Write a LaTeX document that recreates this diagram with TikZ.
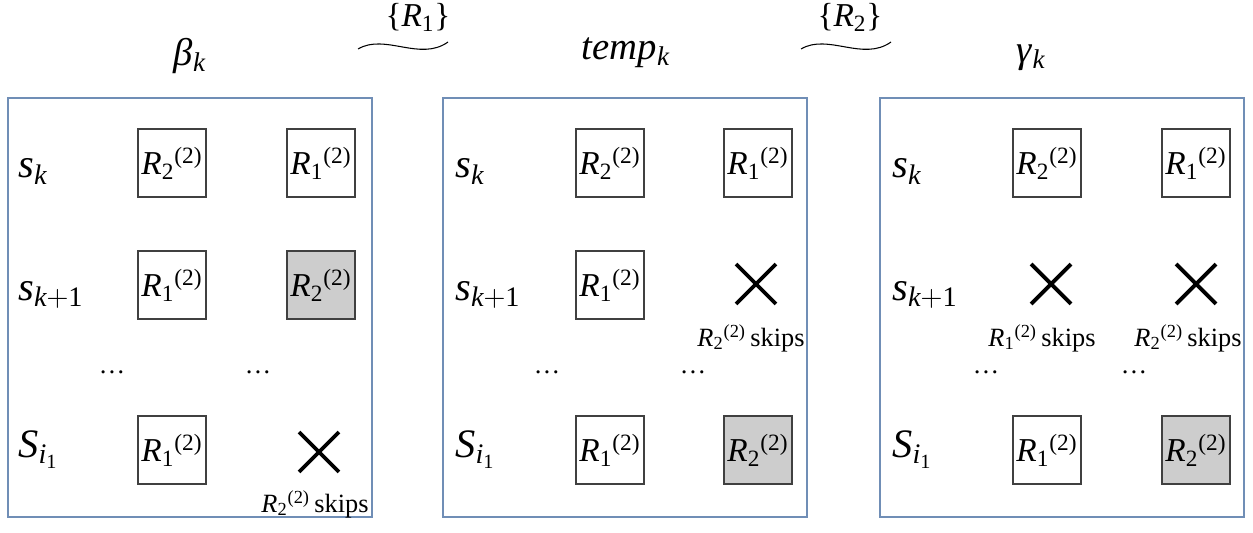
\documentclass[tikz,border=0pt]{standalone}
\usepackage{amsmath}
\usepackage{fontspec}
\setmainfont{Liberation Serif}
\usetikzlibrary{positioning,shapes.misc}
\definecolor{panelblue}{RGB}{112,142,182}
\definecolor{cellgray}{RGB}{205,205,205}
\newcommand{\Rcell}[2]{\textit{R}$_{\text{#1}}{}^{\text{(#2)}}$}
\newcommand{\ssub}[1]{\textit{s}$_{#1}$}

\begin{document}
\begin{tikzpicture}[x=0.02cm,y=-0.02cm,
  every node/.style={inner sep=0pt},
  panel/.style={draw=panelblue,line width=0.8pt,minimum width=7.28cm,minimum height=8.38cm},
  cell/.style={draw=black!75,line width=0.6pt,minimum size=1.36cm,font=\fontsize{19}{22}\selectfont},
  shaded/.style={cell,fill=cellgray},
  skipmark/.style={cross out,draw=black,line width=2.2pt,minimum size=0.72cm},
  skiplabel/.style={font=\fontsize{15}{17}\selectfont},
  rowlabel/.style={font=\fontsize{23}{26}\selectfont,anchor=base west},
  title/.style={font=\fontsize{22}{26}\selectfont},
  setlabel/.style={font=\fontsize{19}{22}\selectfont},
  dots/.style={font=\fontsize{15}{18}\selectfont}]
\useasboundingbox (0,0) rectangle (1253,533);

% titles and the two steps between them
\node[title] (beta) at (190,56) {\textit{β}$_{\textit{k}}$};
\node[title] (temp) at (626,53) {\textit{temp}$_{\textit{k}}$};
\node[title] (gamma) at (1031,58) {\textit{γ}$_{\textit{k}}$};
\node[setlabel] (set1) at (418,17) {\{\textit{R}$_{\text{1}}$\}};
\node[setlabel] (set2) at (850,17) {\{\textit{R}$_{\text{2}}$\}};
\coordinate (w1a) at (358,49);
\coordinate (w1b) at (448,42);
\coordinate (w2a) at (801,49);
\coordinate (w2b) at (891,42);
\draw[line width=0.6pt] (w1a) .. controls (385,33) and (420,62) .. (w1b);
\draw[line width=0.6pt] (w2a) .. controls (828,33) and (863,62) .. (w2b);

% left panel: beta_k
\node[panel] (pl) at (190,307.5) {};
\node[rowlabel] (lsk) at (18,178) {\ssub{\textit{k}}};
\node[rowlabel] (lsk1) at (18,300) {\ssub{\textit{k}+\text{1}}};
\node[rowlabel] (lsi) at (18,457) {\textit{S}$_{\textit{i}_{\text{1}}}$};
\node[cell] (l11) at (172,163) {\Rcell{2}{2}};
\node[cell] (l12) at (321,163) {\Rcell{1}{2}};
\node[cell] (l21) at (172,285) {\Rcell{1}{2}};
\node[shaded] (l22) at (321,285) {\Rcell{2}{2}};
\node[dots] (ld1) at (112,372) {\dots};
\node[dots] (ld2) at (258,372) {\dots};
\node[cell] (l31) at (172,450) {\Rcell{1}{2}};
\node[skipmark] (l32) at (319,452) {};
\node[skiplabel] (l32s) at (315,504) {\Rcell{2}{2}\,skips};

% middle panel: temp_k
\node[panel] (pm) at (625,307.5) {};
\node[rowlabel] (msk) at (455,178) {\ssub{\textit{k}}};
\node[rowlabel] (msk1) at (455,300) {\ssub{\textit{k}+\text{1}}};
\node[rowlabel] (msi) at (455,457) {\textit{S}$_{\textit{i}_{\text{1}}}$};
\node[cell] (m11) at (610,163) {\Rcell{2}{2}};
\node[cell] (m12) at (758,163) {\Rcell{1}{2}};
\node[cell] (m21) at (610,285) {\Rcell{1}{2}};
\node[skipmark] (m22) at (756,284) {};
\node[skiplabel] (m22s) at (751,338) {\Rcell{2}{2}\,skips};
\node[dots] (md1) at (547,372) {\dots};
\node[dots] (md2) at (693,372) {\dots};
\node[cell] (m31) at (610,450) {\Rcell{1}{2}};
\node[shaded] (m32) at (758,450) {\Rcell{2}{2}};

% right panel: gamma_k
\node[panel] (pr) at (1062,307.5) {};
\node[rowlabel] (rsk) at (892,178) {\ssub{\textit{k}}};
\node[rowlabel] (rsk1) at (892,300) {\ssub{\textit{k}+\text{1}}};
\node[rowlabel] (rsi) at (892,457) {\textit{S}$_{\textit{i}_{\text{1}}}$};
\node[cell] (r11) at (1047,163) {\Rcell{2}{2}};
\node[cell] (r12) at (1196,163) {\Rcell{1}{2}};
\node[skipmark] (r21) at (1051,284) {};
\node[skiplabel] (r21s) at (1042,338) {\Rcell{1}{2}\,skips};
\node[skipmark] (r22) at (1196,284) {};
\node[skiplabel] (r22s) at (1188,338) {\Rcell{2}{2}\,skips};
\node[dots] (rd1) at (986,372) {\dots};
\node[dots] (rd2) at (1134,372) {\dots};
\node[cell] (r31) at (1047,450) {\Rcell{1}{2}};
\node[shaded] (r32) at (1196,450) {\Rcell{2}{2}};
\end{tikzpicture}
\end{document}
